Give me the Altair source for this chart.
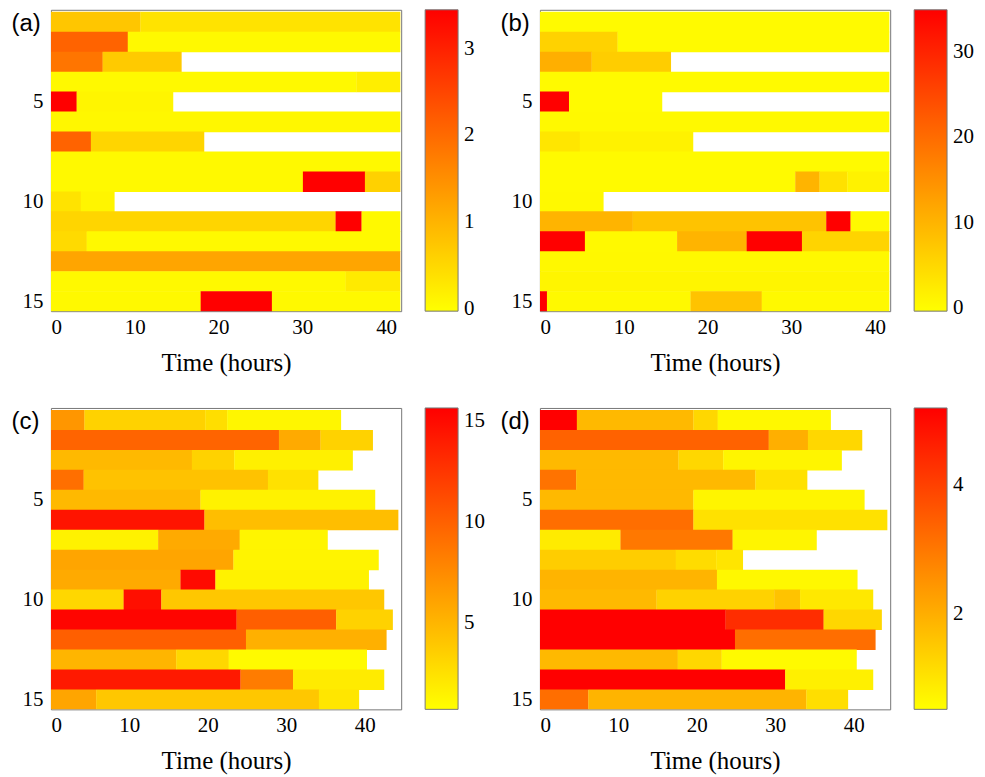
import altair as alt
import pandas as pd

# ---------------- data (segment end times in hours, and values) ----------------
A_ENDS = [
    [10.7, 41.7], [9.2, 41.7], [6.2, 15.6], [36.5, 41.7], [3.1, 14.6],
    [41.7], [4.8, 18.3], [41.7], [30.1, 37.5, 41.7], [3.6, 7.6],
    [34.0, 37.1, 41.7], [4.3, 41.7], [41.7], [35.2, 41.7], [17.9, 26.4, 41.7],
]
A_VALS = [
    [0.75, 0.35], [2.1, 0.05], [1.85, 0.7], [0.05, 0.2], [3.45, 0.1],
    [0.08], [2.1, 0.55], [0.05], [0.05, 3.45, 0.6], [0.35, 0.1],
    [0.55, 3.45, 0.05], [0.48, 0.05], [1.2], [0.05, 0.25], [0.05, 3.45, 0.05],
]

B_ENDS = [
    [41.7], [9.3, 41.7], [6.2, 15.65], [41.7], [3.5, 14.6],
    [41.7], [4.8, 18.3], [41.7], [30.5, 33.4, 36.7, 41.7], [7.6],
    [11.1, 34.2, 37.1, 41.7], [5.4, 16.4, 24.7, 31.3, 41.7], [41.7], [41.7],
    [0.87, 18.0, 26.5, 41.7],
]
B_VALS = [
    [0.3], [5.85, 0.3], [10.7, 6.5], [0.3], [35.0, 0.3],
    [0.4], [3.1, 1.4], [0.3], [0.3, 10.0, 3.8, 1.4], [0.4],
    [10.0, 7.9, 35.0, 0.4], [35.0, 0.5, 10.0, 35.0, 5.6], [0.6], [1.0],
    [35.0, 0.5, 7.9, 0.5],
]

C_ENDS = [
    [4.3, 19.7, 22.5, 37.0], [29.1, 34.4, 41.06], [18.0, 23.4, 38.5],
    [4.2, 27.7, 34.1], [19.1, 41.35], [19.6, 44.3], [13.7, 24.1, 35.3],
    [23.3, 41.8], [16.55, 21.0, 40.55], [9.3, 14.1, 42.5], [23.7, 36.4, 43.6],
    [24.9, 42.8], [16.0, 22.7, 40.3], [24.2, 30.9, 42.5], [5.8, 34.2, 39.3],
]
C_VALS = [
    [6.9, 3.4, 2.7, 1.3], [9.8, 5.7, 3.4], [4.85, 3.4, 1.6],
    [9.2, 4.3, 2.5], [4.85, 1.5], [14.5, 4.55], [1.5, 5.7, 1.35],
    [6.0, 1.4], [5.7, 15.1, 1.5], [3.1, 14.8, 4.0], [15.4, 10.1, 3.4],
    [10.1, 5.4], [5.1, 3.1, 1.05], [14.2, 8.4, 1.9], [6.0, 4.0, 2.2],
]

D_ENDS = [
    [4.74, 19.6, 22.7, 37.1], [29.2, 34.2, 41.1], [17.7, 23.4, 38.5],
    [4.65, 27.5, 34.1], [19.6, 41.4], [19.6, 44.3], [10.3, 24.6, 35.3],
    [17.35, 22.5, 25.9], [22.6, 40.5], [14.9, 29.9, 33.2, 42.5],
    [23.7, 36.2, 43.6], [24.9, 42.8], [17.6, 23.2, 40.4], [31.3, 42.5],
    [6.2, 34.0, 39.3],
]
D_VALS = [
    [5.2, 1.8, 1.25, 0.65], [3.4, 1.99, 1.25], [1.8, 1.25, 0.7],
    [3.09, 1.8, 1.07], [1.8, 0.7], [3.18, 1.07], [0.89, 3.0, 0.7],
    [1.44, 1.16, 1.0], [1.9, 0.65], [1.8, 1.35, 1.62, 0.94],
    [5.2, 4.37, 1.25], [5.2, 3.18], [1.8, 1.25, 0.61], [5.2, 0.8],
    [3.18, 1.9, 1.13],
]

LABELS = ["(a)", "(b)", "(c)", "(d)"]
X_MAX = [41.8, 41.8, 44.66, 44.66]
C_DOMAINS = [[-0.03, 3.45], [-0.4, 35.0], [0.75, 15.67], [0.52, 5.2]]
C_TICKS = [[0, 1, 2, 3], [0, 10, 20, 30], [5, 10, 15], [2, 4]]
X_TICKS = [0, 10, 20, 30, 40]
Y_TICKS = [5, 10, 15]

SERIF = "Liberation Serif"
SANS = "Liberation Sans"
W, H = 351, 302
SEAM = 0.03  # tiny overlap between neighbouring cells to hide anti-aliasing seams


def build(ends, vals):
    recs = []
    for r, (e, v) in enumerate(zip(ends, vals), start=1):
        s = 0.0
        for end, val in zip(e, v):
            recs.append({"row0": r - 0.5, "row1": r + 0.5 + SEAM,
                         "t0": max(s - SEAM, 0.0), "t1": end, "value": val})
            s = end
    return pd.DataFrame(recs)


def panel(ends, vals, label, xmax, cdom, cticks):
    df = build(ends, vals)
    cscale = alt.Scale(domain=cdom, range=["#ffff00", "#ff0000"],
                       interpolate="rgb", clamp=True, nice=False, zero=False)
    return alt.Chart(df).mark_rect(strokeWidth=0, clip=True).encode(
        x=alt.X("t0:Q",
                scale=alt.Scale(domain=[0, xmax], nice=False, zero=False),
                axis=alt.Axis(values=X_TICKS, title="Time (hours)", grid=False,
                              ticks=False, domain=False, labelFont=SERIF,
                              labelFontSize=21, labelColor="black", labelPadding=5,
                              titleFont=SERIF, titleFontSize=25, titleFontWeight="normal",
                              titleColor="black", titlePadding=13)),
        x2="t1:Q",
        y=alt.Y("row0:Q",
                scale=alt.Scale(domain=[0.4, 15.5], nice=False, zero=False, reverse=True),
                axis=alt.Axis(values=Y_TICKS, title=label, grid=False, ticks=False,
                              domain=False, labelFont=SERIF, labelFontSize=21,
                              labelColor="black", labelPadding=8,
                              titleAngle=0, titleX=-40, titleY=2, titleAlign="left",
                              titleBaseline="top", titleFont=SANS, titleFontSize=24,
                              titleFontWeight="normal", titleColor="black")),
        y2="row1:Q",
        color=alt.Color("value:Q", scale=cscale,
                        legend=alt.Legend(type="gradient", title=None, orient="right",
                                          direction="vertical",
                                          gradientLength=H, gradientThickness=33,
                                          offset=24, padding=0, values=cticks, format="d",
                                          labelFont=SERIF, labelFontSize=21,
                                          labelColor="black", labelOffset=6,
                                          gradientStrokeColor="#777",
                                          gradientStrokeWidth=1)),
    ).properties(width=W, height=H)


panels = [
    panel(A_ENDS, A_VALS, LABELS[0], X_MAX[0], C_DOMAINS[0], C_TICKS[0]),
    panel(B_ENDS, B_VALS, LABELS[1], X_MAX[1], C_DOMAINS[1], C_TICKS[1]),
    panel(C_ENDS, C_VALS, LABELS[2], X_MAX[2], C_DOMAINS[2], C_TICKS[2]),
    panel(D_ENDS, D_VALS, LABELS[3], X_MAX[3], C_DOMAINS[3], C_TICKS[3]),
]

chart = alt.concat(
    *panels, columns=2, spacing={"row": 97, "column": 139}, bounds="flush"
).resolve_scale(
    color="independent", x="independent", y="independent"
).configure_view(
    stroke="#777", strokeWidth=1
).properties(
    padding={"left": 2, "top": 0, "right": 2, "bottom": 2}
)

chart.save("out.html", embed_options={"renderer": "svg", "actions": False})
